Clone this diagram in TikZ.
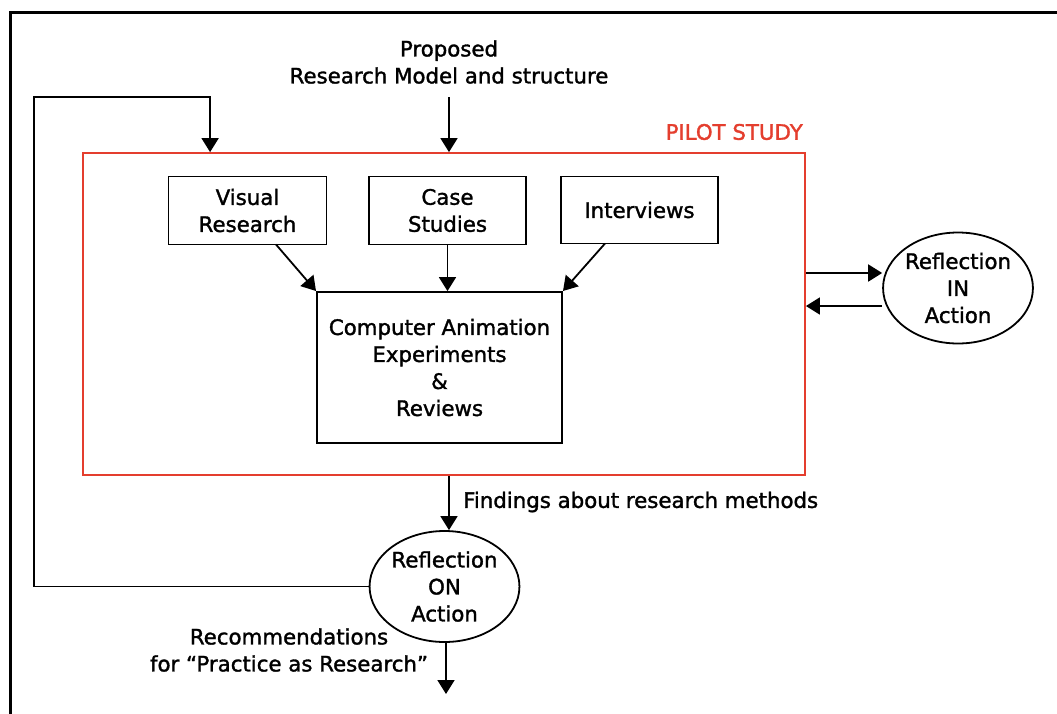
\documentclass[tikz,border=0pt]{standalone}
\usepackage{fontspec}
\setmainfont[FakeBold=1.5]{DejaVu Sans}
\usetikzlibrary{arrows.meta,shapes.geometric}
\definecolor{pilotred}{RGB}{228,62,46}
\begin{document}
\begin{tikzpicture}[x=1pt,y=-1pt,
  font=\fontsize{21.3}{27}\selectfont,
  arr/.style={line width=1.8pt,-{Triangle[length=14pt,width=17pt]}},
  stepbox/.style={draw,line width=1.8pt,inner sep=0pt,align=center},
  refl/.style={draw,ellipse,line width=1.8pt,inner sep=0pt,align=center},
  txt/.style={inner sep=0pt,align=center}]
\useasboundingbox (0,0) rectangle (1057,713);
% outer frame, running off the right and bottom edges
\draw[line width=3pt] (10,730) -- (10,12) -- (1070,12);

% pilot study frame
\node[draw=pilotred,line width=1.8pt,minimum width=722pt,minimum height=322pt,inner sep=0pt] (pilot) at (444,314) {};
\node[txt,text=pilotred,anchor=east] (pilottitle) at (803,132) {PILOT STUDY};

% inputs
\node[stepbox,minimum width=158pt,minimum height=68pt] (visual) at (247.5,210.5) {Visual\\Research};
\node[stepbox,minimum width=157pt,minimum height=68pt] (cases) at (447.5,210.5) {Case\\Studies};
\node[stepbox,minimum width=157pt,minimum height=67pt] (interviews) at (639.5,210) {Interviews};
\node[stepbox,minimum width=245pt,minimum height=151pt] (comp) at (439.5,367.5) {Computer Animation\\Experiments\\\&\\Reviews};

% reflection nodes
\node[refl,minimum width=148pt,minimum height=111pt] (rin) at (958,288) {Reflection\\IN\\Action};
\node[refl,minimum width=149pt,minimum height=111pt] (ron) at (444.5,586.5) {Reflection\\ON\\Action};

% free texts
\node[txt] (proposed) at (449,62) {Proposed\\Research Model and structure};
\node[txt,anchor=west] (findings) at (463,502) {Findings about research methods};
\node[txt] (recomm) at (289,650) {Recommendations\\for ``Practice as Research''};

% arrows into the pilot study
\coordinate (propfoot) at (449,97);
\draw[arr] (propfoot) -- (propfoot |- pilot.north);
\coordinate (fbcorner) at (34,97);
\draw[arr] (ron.west) -| (fbcorner) -| ([xshift=128pt]pilot.north west);

% inputs into the experiments
\coordinate (visfoot) at (276,244.5);
\coordinate (intfoot) at (605,243.5);
\draw[arr] (visfoot) -- (316,291);
\draw[arr] (cases.south) -- (cases.south |- comp.north);
\draw[arr] (intfoot) -- (563,291);

% reflection in action
\draw[arr] (pilot.east |- 0,273) -- (rin.west |- 0,273);
\draw[arr] (rin.west |- 0,306) -- (pilot.east |- 0,306);

% findings and recommendations
\draw[arr] (pilot.south -| propfoot) -- (ron.north -| propfoot);
\coordinate (outfoot) at (446,694);
\draw[arr] (ron.south -| outfoot) -- (outfoot);
\end{tikzpicture}
\end{document}
